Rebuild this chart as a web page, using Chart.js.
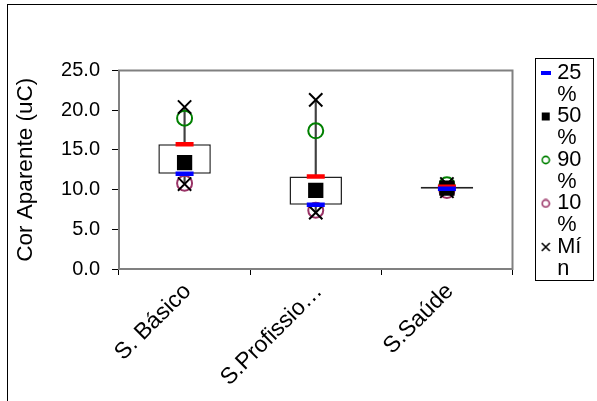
<!DOCTYPE html>
<html>
<head>
<meta charset="utf-8">
<script src="https://cdn.jsdelivr.net/npm/chart.js@4/dist/chart.umd.min.js"></script>
<style>
  html, body { margin: 0; padding: 0; background: #fff; }
</style>
</head>
<body>
<canvas id="chart" width="597" height="401"></canvas>
<script>
// values
const categories = ['S. Básico', 'S.Profissio…', 'S.Saúde'];
const minVals = [10.7, 7.1, 9.8];
const p10 = [10.8, 7.4, 9.9];
const p25 = [12.0, 8.1, 10.1];
const p50 = [13.4, 9.9, 10.2];
const p75 = [15.7, 11.65, 10.35];
const p90 = [19.0, 17.4, 10.6];
const maxVals = [20.4, 21.3, 10.7];
const yTicks = [0, 5, 10, 15, 20, 25];
const legendText = [['25', '%'], ['50', '%'], ['90', '%'], ['10', '%'], ['Mí', 'n']];

const FONT = "'Liberation Sans', Arial, sans-serif";

function icon(w, h, draw) {
  const c = document.createElement('canvas');
  c.width = w;
  c.height = h;
  draw(c.getContext('2d'));
  return c;
}
const blank = icon(1, 1, () => {});
const legendIcons = [
  icon(10, 4, g => { g.fillStyle = '#0000ff'; g.fillRect(0, 0, 10, 4); }),
  icon(10, 10, g => { g.fillStyle = '#000'; g.fillRect(1, 1, 8, 8); }),
  icon(10, 10, g => { g.strokeStyle = '#008000'; g.lineWidth = 1.6; g.beginPath(); g.arc(5, 5, 3.6, 0, Math.PI * 2); g.stroke(); }),
  icon(10, 10, g => { g.strokeStyle = '#993366'; g.lineWidth = 1.6; g.beginPath(); g.arc(5, 5, 3.6, 0, Math.PI * 2); g.stroke(); }),
  icon(10, 10, g => { g.strokeStyle = '#000'; g.lineWidth = 1.6; g.beginPath(); g.moveTo(1, 1); g.lineTo(9, 9); g.moveTo(9, 1); g.lineTo(1, 9); g.stroke(); })
];

function markers(label, data, opts) {
  return Object.assign({
    type: 'line',
    label: label,
    data: data,
    showLine: false,
    pointBackgroundColor: 'rgba(0,0,0,0)'
  }, opts);
}

const frames = {
  id: 'frames',
  afterLayout(chart) {
    const lg = chart.legend;
    lg.left = 545.25;
    lg.right = 597;
    lg.top = 62.1;
    lg.bottom = 300;
    lg.width = lg.right - lg.left;
    lg.height = lg.bottom - lg.top;
    // no clipping, the markers sit half left of the legend's own left edge
    lg.draw = function () { this._draw(); };
  },
  beforeDraw(chart) {
    const ctx = chart.ctx;
    ctx.save();
    ctx.fillStyle = '#fff';
    ctx.fillRect(0, 0, chart.width, chart.height);
    ctx.strokeStyle = '#000';
    ctx.lineWidth = 1;
    ctx.strokeRect(7.5, 4.5, 700, 500);
    ctx.strokeRect(535.5, 58.5, 58, 222);
    ctx.restore();
  },
  beforeDatasetsDraw(chart) {
    const a = chart.chartArea;
    const ctx = chart.ctx;
    ctx.save();
    ctx.strokeStyle = '#808080';
    ctx.lineWidth = 2;
    ctx.strokeRect(a.left, a.top, a.right - a.left, a.bottom - a.top);
    ctx.restore();
  }
};

new Chart(document.getElementById('chart'), {
  type: 'bar',
  data: {
    labels: categories,
    datasets: [
      {
        label: 'whisker',
        data: categories.map((c, i) => [minVals[i], maxVals[i]]),
        backgroundColor: '#404040',
        borderWidth: 0,
        barThickness: 1.5,
        grouped: false,
        order: 20
      },
      {
        label: 'box',
        data: categories.map((c, i) => [p25[i], p75[i]]),
        backgroundColor: '#fff',
        borderColor: '#222',
        borderWidth: 1.5,
        borderSkipped: false,
        barPercentage: 0.4,
        categoryPercentage: 1,
        grouped: false,
        order: 19
      },
      markers('25%', p25, { pointStyle: 'line', pointRadius: 9, pointBorderWidth: 4.5, pointBorderColor: '#0000ff', order: 2 }),
      markers('50%', p50, { pointStyle: 'rect', pointRadius: 10.8, pointBorderWidth: 0, pointBackgroundColor: '#000', order: 5 }),
      markers('90%', p90, { pointStyle: 'circle', pointRadius: 7.5, pointBorderWidth: 2, pointBorderColor: '#008000', order: 6 }),
      markers('10%', p10, { pointStyle: 'circle', pointRadius: 7.5, pointBorderWidth: 2, pointBorderColor: '#993366', order: 6 }),
      markers('Mín', minVals, { pointStyle: 'crossRot', pointRadius: 9.4, pointBorderWidth: 2, pointBorderColor: '#000', order: 4 }),
      markers('75%', p75, { pointStyle: 'line', pointRadius: 9, pointBorderWidth: 4.5, pointBorderColor: '#ff0000', order: 2 }),
      markers('Máx', maxVals, { pointStyle: 'crossRot', pointRadius: 9.4, pointBorderWidth: 2, pointBorderColor: '#000', order: 4 })
    ]
  },
  options: {
    responsive: false,
    animation: false,
    events: [],
    layout: { padding: { top: 70.5, right: 84.5, bottom: 0, left: 0 } },
    plugins: {
      tooltip: { enabled: false },
      legend: {
        position: 'chartArea',
        align: 'start',
        labels: {
          usePointStyle: true,
          boxWidth: 1,
          boxHeight: 10,
          padding: 0,
          color: '#000',
          font: { family: FONT, size: 21.75 },
          generateLabels: () => {
            const items = [];
            legendText.forEach((lines, i) => {
              items.push({ text: lines[0], pointStyle: legendIcons[i], fillStyle: '#000', strokeStyle: '#000', lineWidth: 0, fontColor: '#000', datasetIndex: i + 2 });
              items.push({ text: lines[1], pointStyle: blank, fillStyle: '#000', strokeStyle: '#000', lineWidth: 0, fontColor: '#000', datasetIndex: i + 2 });
            });
            return items;
          }
        }
      }
    },
    scales: {
      x: {
        offset: true,
        grid: { drawOnChartArea: false, tickLength: 6, color: '#000', offset: true },
        border: { color: '#808080', width: 2 },
        ticks: { color: '#000', font: { family: FONT, size: 23 }, minRotation: 45, maxRotation: 45, padding: 3, labelOffset: 3, autoSkip: false },
        afterFit(s) { s.height = 401 - 269; }
      },
      y: {
        min: 0,
        max: 25,
        afterBuildTicks(s) { s.ticks = yTicks.map(v => ({ value: v })); },
        grid: { drawOnChartArea: false, tickLength: 7, color: '#000' },
        border: { color: '#808080', width: 2 },
        ticks: { color: '#000', font: { family: FONT, size: 20 }, padding: 12, callback: v => v.toFixed(1) },
        title: { display: true, text: 'Cor Aparente (uC)', color: '#000', font: { family: FONT, size: 22.5 }, padding: { top: 12, bottom: 0 } },
        afterFit(s) { s.width = 119; }
      }
    }
  },
  plugins: [frames]
});
</script>
</body>
</html>
